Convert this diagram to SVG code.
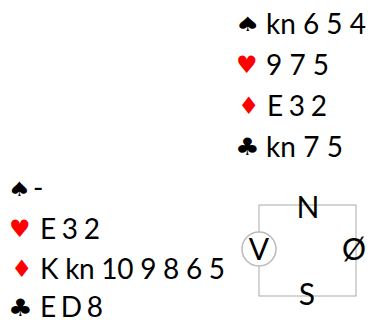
<svg xmlns="http://www.w3.org/2000/svg" width="369" height="320" viewBox="0 0 369 320">
<style>
.t{font-family:Lato,"Liberation Sans",sans-serif;font-size:28px;fill:#000}
.s{font-family:"DejaVu Sans",sans-serif;font-size:24px}
.sp{font-family:"DejaVu Sans",sans-serif;font-size:20px}
.b{fill:#000}.r{fill:#ff0000}
.c{font-family:Lato,"Liberation Sans",sans-serif;font-size:30px;fill:#000;text-anchor:middle}
</style>
<rect width="369" height="320" fill="#fff"/>
<g id="north">
<text class="sp b" transform="translate(235,31) scale(1.45,1)">♠</text><text class="t" x="266" y="34" textLength="100">kn 6 5 4</text>
<text class="s r" x="236" y="73">♥</text><text class="t" x="266" y="75" textLength="63">9 7 5</text>
<text class="s r" x="238" y="114">♦</text><text class="t" x="267" y="116" textLength="60">E 3 2</text>
<text class="s b" transform="translate(235,155) scale(1.15,1)">♣</text><text class="t" x="266" y="157" textLength="77">kn 7 5</text>
</g>
<g id="west">
<text class="sp b" transform="translate(8,196) scale(1.3,1)">♠</text><text class="t" x="33" y="198">-</text>
<text class="s r" x="9" y="237">♥</text><text class="t" x="40" y="239" textLength="60">E 3 2</text>
<text class="s r" x="11" y="277">♦</text><text class="t" x="40" y="279" textLength="185">K kn 10 9 8 6 5</text>
<text class="s b" transform="translate(8,316) scale(1.15,1)">♣</text><text class="t" x="40" y="317" textLength="63">E D 8</text>
</g>
<g id="compass">
<rect x="259" y="205" width="97" height="91" fill="none" stroke="#aaaaaa" stroke-width="1"/>
<circle cx="259" cy="249" r="17" fill="#fff" stroke="#bbbbbb" stroke-width="1.5"/>
<text class="c" x="308" y="218">N</text>
<text class="c" x="354" y="260">Ø</text>
<text class="c" x="307" y="305">S</text>
<text class="c" x="259" y="260">V</text>
</g>
</svg>
